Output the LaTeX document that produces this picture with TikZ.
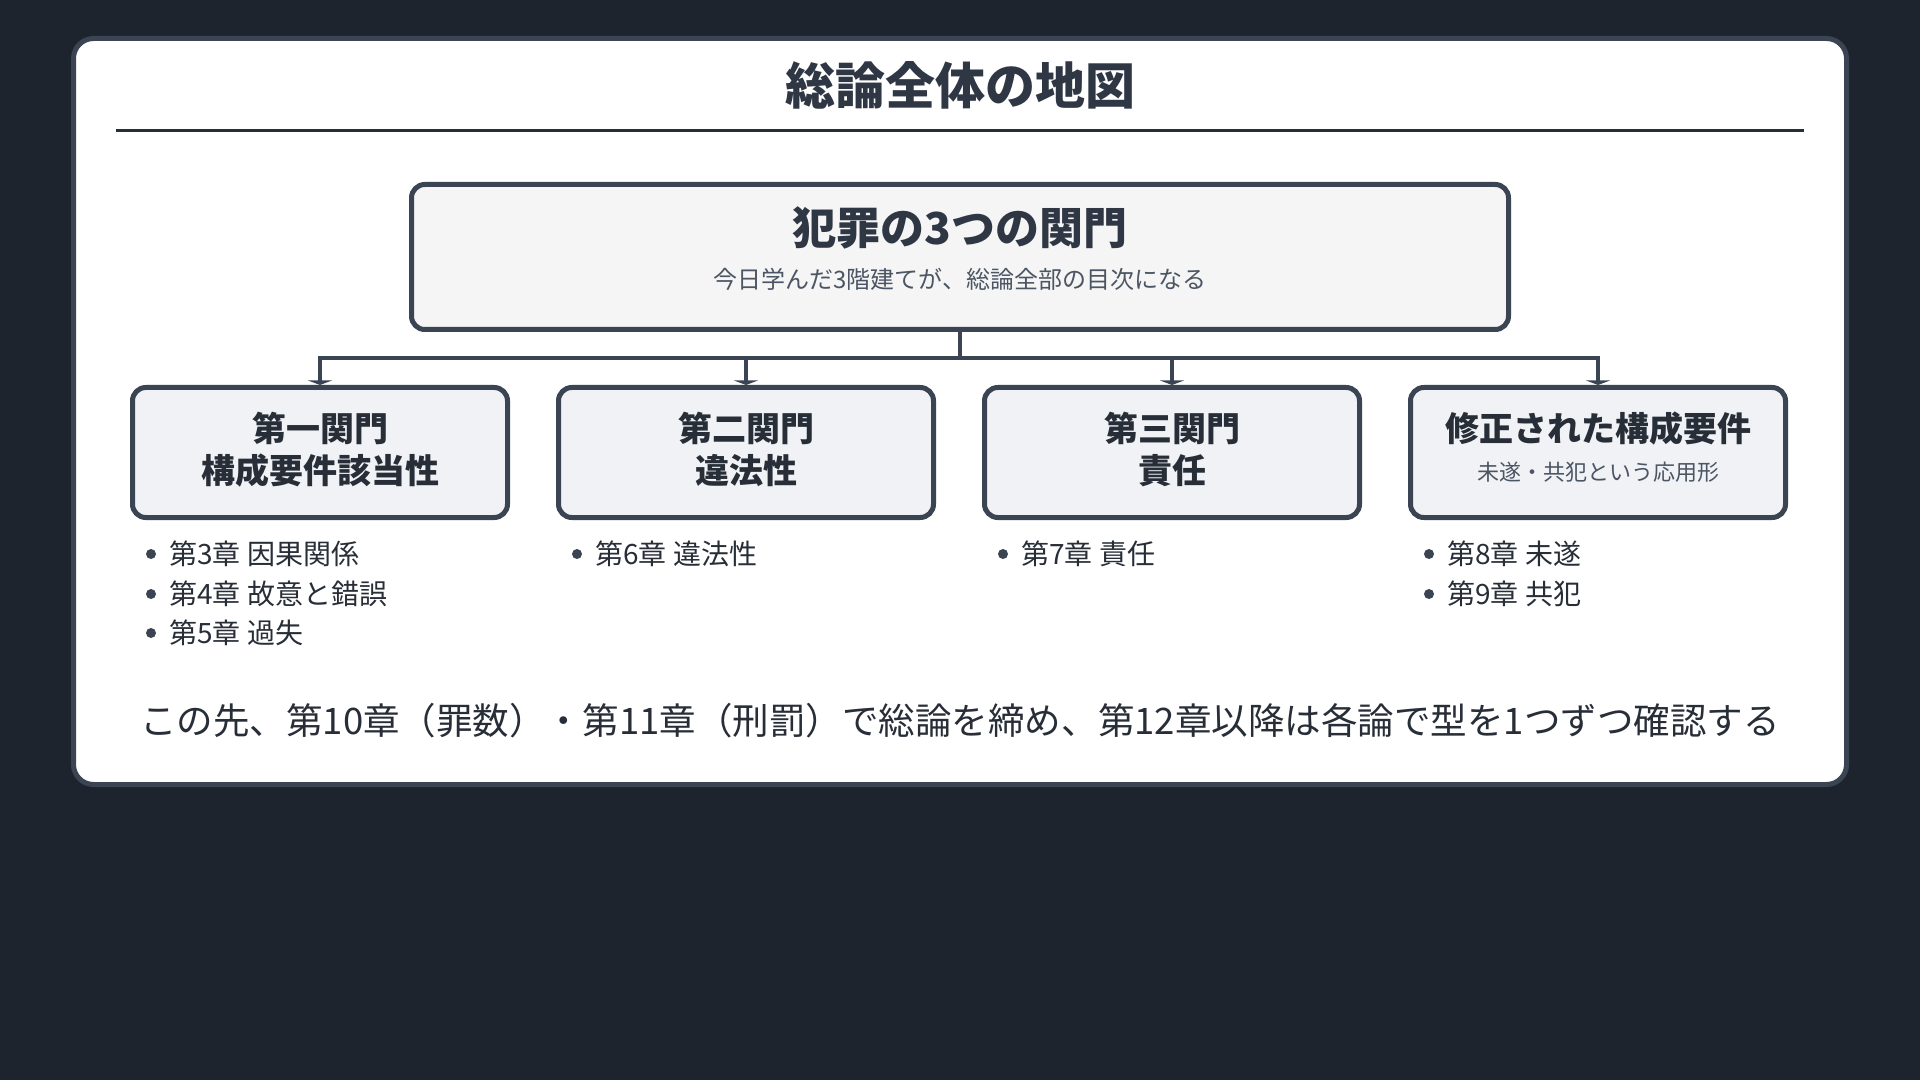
\documentclass[tikz,border=0pt]{standalone}
\usepackage{fontspec}
\setmainfont{Noto Sans CJK JP}
\usetikzlibrary{arrows.meta}
\definecolor{bgdark}{HTML}{1E242D}
\definecolor{edge}{HTML}{3B4453}
\definecolor{ink}{HTML}{282E38}
\definecolor{titleink}{HTML}{2F3744}
\definecolor{subink}{HTML}{4B5563}
\definecolor{topfill}{HTML}{F5F5F5}
\definecolor{gatefill}{HTML}{F0F2F5}

\begin{document}
\begin{tikzpicture}[x=0.75pt,y=-0.75pt]
\tikzstyle{every node}+=[inner sep=0pt]
\tikzstyle{gatebox}=[draw=edge,line width=3.75pt,rounded corners=10pt,fill=gatefill,minimum width=281.25pt,minimum height=97.5pt]
\tikzstyle{gatetext}=[text=ink,font=\bfseries\fontsize{25.5pt}{30pt}\selectfont]
\tikzstyle{gatesub}=[text=subink,font=\fontsize{16.5pt}{20pt}\selectfont]
\tikzstyle{item}=[text=ink,anchor=west,font=\fontsize{21pt}{25pt}\selectfont]
\tikzstyle{link}=[draw=edge,line width=3pt]
\tikzstyle{head}=[-{Triangle[width=18pt,length=3.4pt]}]
\useasboundingbox (0,0) rectangle (1920,1080);
\fill [bgdark] (0,0) rectangle (1920,1080);
\draw [edge,line width=3.75pt,fill=white,rounded corners=15pt] (73.5,38.5) rectangle (1846.5,784.5);
\node [text=titleink,font=\bfseries\fontsize{37.5pt}{45pt}\selectfont] (title) at (960,85) {総論全体の地図};
\draw [ink,line width=2.25pt] (116,130.5) -- (1804,130.5);
% top box
\node [gatebox,fill=topfill,minimum width=822.75pt,minimum height=108.75pt] (crime) at (960,257) {};
\node [text=titleink,font=\bfseries\fontsize{33pt}{40pt}\selectfont] (crimeT) at (960,228) {犯罪の3つの関門};
\node [gatesub,font=\fontsize{18pt}{22pt}\selectfont] (crimeS) at (960,279) {今日学んだ3階建てが、総論全部の目次になる};
% four gates
\node [gatebox] (g1) at (320,452.5) {};
\node [gatebox] (g2) at (746,452.5) {};
\node [gatebox] (g3) at (1172,452.5) {};
\node [gatebox] (g4) at (1598,452.5) {};
\node [gatetext] (g1a) at (320,428) {第一関門};
\node [gatetext] (g1b) at (320,471) {構成要件該当性};
\node [gatetext] (g2a) at (746,428) {第二関門};
\node [gatetext] (g2b) at (746,471) {違法性};
\node [gatetext] (g3a) at (1172,428) {第三関門};
\node [gatetext] (g3b) at (1172,471) {責任};
\node [gatetext] (g4a) at (1598,429) {修正された構成要件};
\node [gatesub] (g4b) at (1598,472) {未遂・共犯という応用形};
% connectors
\coordinate (fork) at (960,358);
\draw [link] (crime.south) -- (fork);
\foreach \g in {g1,g2,g3,g4}
  \draw [link,head] (fork) -| (\g.north);
% chapter lists
\foreach \x/\y/\t [count=\k] in {169/554/第3章 因果関係,169/594/第4章 故意と錯誤,169/633/第5章 過失,
    595/554/第6章 違法性,1021/554/第7章 責任,1447/554/第8章 未遂,1447/594/第9章 共犯} {
  \fill [edge] (\x-18,\y) circle (3.75pt);
  \node [item] (ch\k) at (\x,\y) {\t};
}
\node [text=ink,font=\fontsize{27.4pt}{32pt}\selectfont] (outlook) at (960,721) {この先、第10章（罪数）・第11章（刑罰）で総論を締め、第12章以降は各論で型を1つずつ確認する};
\end{tikzpicture}
\end{document}
